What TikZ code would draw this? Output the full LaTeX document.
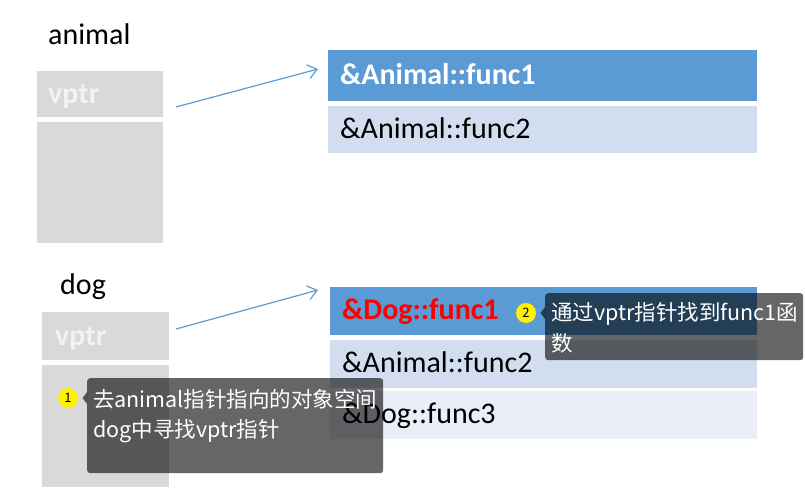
\documentclass[tikz,border=0pt]{standalone}
\usepackage{fontspec}
\setmainfont{Carlito}
\newfontfamily\cjk{Noto Sans CJK SC}
\usetikzlibrary{arrows.meta}
\definecolor{vblue}{HTML}{5B9BD5}
\definecolor{rowa}{HTML}{D2DEEF}
\definecolor{rowb}{HTML}{EAEFF7}
\definecolor{grayb}{HTML}{D9D9D9}
\definecolor{vtext}{HTML}{F2F2F2}
\begin{document}
\begin{tikzpicture}[x=1bp,y=-1bp,
  cell/.style={anchor=north west, inner ysep=0pt, inner xsep=12bp, align=left,
    font=\fontsize{30bp}{36bp}\selectfont, text height=21bp, text depth=4bp},
  membox/.style={anchor=north west, fill=grayb, inner ysep=0pt, align=left,
    font=\fontsize{30bp}{36bp}\selectfont\bfseries, text=vtext, text height=21bp, text depth=3bp},
  objlabel/.style={anchor=base west, inner sep=0pt, font=\fontsize{30bp}{36bp}\selectfont},
  conn/.style={draw=vblue, line width=1.2bp, -{Straight Barb[length=9bp,width=14bp]}},
  callout/.style={anchor=north west, fill=black, fill opacity=0.6, rounded corners=3bp, inner sep=0pt},
  ctext/.style={anchor=base west, inner sep=0pt, align=left, text=white,
    font=\cjk\fontsize{21.5bp}{30bp}\selectfont},
  badge/.style={circle, fill=yellow, minimum size=20bp, inner sep=0pt,
    font=\cjk\fontsize{13bp}{13bp}\selectfont}
]
\useasboundingbox (0,0) rectangle (805,504);

% animal object
\node[objlabel] (animal) at (48,45) {animal};
\node[membox, minimum height=46bp, inner xsep=11bp, text width=104bp] (avptr) at (37,71) {vptr};
\node[membox, minimum height=121bp, minimum width=126bp, inner xsep=0pt] (abody) at (37,122) {};

% animal vtable
\node[cell, fill=vblue, text=white, minimum height=51bp, text width=405bp] (a1) at (328,50) {\bfseries\&Animal::func1};
\node[cell, fill=rowa, minimum height=47bp, text width=405bp] (a2) at (328,106) {\&Animal::func2};

\coordinate (s1) at (176,107);
\coordinate (e1) at (318,69);
\draw[conn] (s1) -- (e1);

% dog object
\node[objlabel] (dog) at (60,295) {dog};
\node[membox, minimum height=48bp, inner xsep=13bp, text width=101bp] (dvptr) at (42,312) {vptr};
\node[membox, minimum height=122bp, minimum width=127bp, inner xsep=0pt] (dbody) at (42,365) {};

% dog vtable
\node[cell, fill=vblue, text=red, minimum height=48bp, text width=403bp] (d1) at (330,287) {\bfseries\&Dog::func1};
\node[cell, fill=rowa, minimum height=48bp, text width=403bp] (d2) at (330,340) {\&Animal::func2};
\node[cell, fill=rowb, minimum height=48bp, text width=403bp] (d3) at (330,391) {\&Dog::func3};

\coordinate (s2) at (176,329);
\coordinate (e2) at (318,290);
\draw[conn] (s2) -- (e2);

% callout 1
\node[callout, minimum width=296bp, minimum height=95bp] (c1) at (87,378) {};
\fill[black, fill opacity=0.6] (87,392) -- (82.5,398) -- (87,404) -- cycle;
\node[ctext] (t1) at (93,437) {去animal指针指向的对象空间\\dog中寻找vptr指针};
\node[badge] (b1) at (68,398) {1};

% callout 2
\node[callout, minimum width=258bp, minimum height=67bp] (c2) at (545,293) {};
\fill[black, fill opacity=0.6] (545,307) -- (540.5,313) -- (545,319) -- cycle;
\node[ctext] (t2) at (551,351) {通过vptr指针找到func1函\\数};
\node[badge] (b2) at (526,313) {2};
\end{tikzpicture}
\end{document}
